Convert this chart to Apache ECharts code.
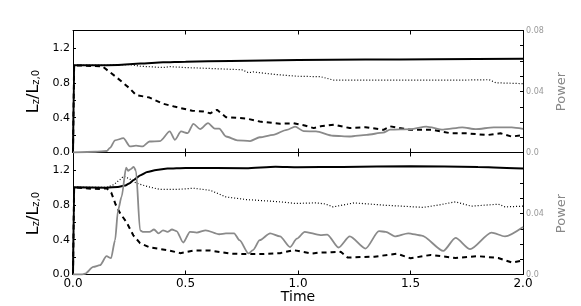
<!DOCTYPE html>
<html><head><meta charset="utf-8">
<script src="https://cdn.jsdelivr.net/npm/echarts@6/dist/echarts.min.js"></script>
<style>html,body{margin:0;padding:0;background:#fff}#c{width:581px;height:306px}</style>
</head><body><div id="c"></div>
<script>
// ---- data (time, value) ----
const xTicks = [0, 0.5, 1.0, 1.5, 2.0];
// top panel
const topSolidT = [0, 0.005, 0.1, 0.2, 0.3, 0.4, 0.5, 0.7, 1.0, 1.3, 1.6, 2.0];
const topSolidV = [0, 1.0, 1.0, 1.005, 1.02, 1.035, 1.042, 1.05, 1.062, 1.066, 1.07, 1.075];
const topDotT = [0, 0.005, 0.15, 0.25, 0.3, 0.4, 0.43, 0.5, 0.6, 0.7, 0.75, 0.78, 0.8, 0.85, 0.9, 1.0, 1.1, 1.16, 1.3, 1.5, 1.7, 1.85, 1.88, 2.0];
const topDotV = [0, 1.0, 1.0, 1.01, 0.99, 0.975, 0.985, 0.975, 0.965, 0.955, 0.95, 0.915, 0.925, 0.91, 0.895, 0.875, 0.87, 0.83, 0.83, 0.83, 0.83, 0.835, 0.80, 0.79];
const topDashT = [0, 0.005, 0.13, 0.19, 0.25, 0.28, 0.34, 0.4, 0.45, 0.53, 0.58, 0.61, 0.64, 0.68, 0.77, 0.83, 0.92, 0.98, 1.03, 1.07, 1.1, 1.16, 1.23, 1.3, 1.38, 1.41, 1.5, 1.6, 1.68, 1.75, 1.84, 1.9, 1.95, 2.0];
const topDashV = [0, 1.0, 0.99, 0.87, 0.74, 0.66, 0.63, 0.56, 0.527, 0.48, 0.47, 0.45, 0.49, 0.405, 0.39, 0.355, 0.33, 0.335, 0.31, 0.28, 0.30, 0.32, 0.28, 0.29, 0.26, 0.30, 0.26, 0.26, 0.22, 0.22, 0.20, 0.22, 0.183, 0.20];
const topPowT = [0, 0.1, 0.15, 0.164, 0.187, 0.224, 0.253, 0.28, 0.31, 0.34, 0.387, 0.43, 0.453, 0.48, 0.51, 0.535, 0.565, 0.6, 0.63, 0.65, 0.68, 0.73, 0.787, 0.83, 0.89, 0.95, 0.987, 1.025, 1.08, 1.156, 1.23, 1.305, 1.378, 1.41, 1.5, 1.57, 1.645, 1.73, 1.79, 1.87, 1.95, 2.0];
const topPowV = [0, 0.0005, 0.001, 0.003, 0.008, 0.0094, 0.004, 0.0045, 0.004, 0.0072, 0.0075, 0.0138, 0.0083, 0.0138, 0.0127, 0.0188, 0.0153, 0.0193, 0.0157, 0.0157, 0.0105, 0.008, 0.0075, 0.010, 0.0116, 0.0149, 0.017, 0.014, 0.0138, 0.011, 0.0105, 0.0116, 0.013, 0.015, 0.0153, 0.017, 0.015, 0.0165, 0.0153, 0.0165, 0.0165, 0.0155];
// bottom panel
const botSolidT = [0, 0.005, 0.15, 0.2, 0.23, 0.25, 0.27, 0.3, 0.33, 0.37, 0.42, 0.5, 0.77, 0.9, 1.0, 1.2, 1.5, 1.8, 2.0];
const botSolidV = [0, 1.0, 0.995, 1.005, 1.02, 1.045, 1.085, 1.14, 1.175, 1.2, 1.215, 1.222, 1.22, 1.236, 1.23, 1.235, 1.243, 1.235, 1.217];
const botDotT = [0, 0.005, 0.15, 0.18, 0.209, 0.225, 0.25, 0.28, 0.33, 0.387, 0.46, 0.535, 0.61, 0.68, 0.77, 0.92, 0.99, 1.05, 1.08, 1.12, 1.156, 1.25, 1.378, 1.557, 1.63, 1.70, 1.77, 1.89, 1.92, 2.0];
const botDotV = [0, 1.0, 1.0, 1.03, 1.09, 1.128, 1.1, 1.05, 1.01, 0.976, 0.976, 0.99, 0.966, 0.89, 0.86, 0.834, 0.815, 0.82, 0.822, 0.81, 0.776, 0.822, 0.796, 0.77, 0.80, 0.834, 0.784, 0.807, 0.776, 0.784];
const botDashT = [0, 0.005, 0.08, 0.12, 0.15, 0.17, 0.19, 0.21, 0.238, 0.268, 0.298, 0.342, 0.42, 0.476, 0.535, 0.61, 0.70, 0.77, 0.84, 0.92, 0.98, 1.06, 1.09, 1.15, 1.19, 1.22, 1.34, 1.44, 1.5, 1.59, 1.7, 1.8, 1.89, 1.95, 2.0];
const botDashV = [0, 1.0, 0.985, 0.98, 0.99, 0.94, 0.80, 0.70, 0.60, 0.45, 0.36, 0.31, 0.28, 0.245, 0.275, 0.275, 0.24, 0.235, 0.235, 0.245, 0.28, 0.24, 0.25, 0.255, 0.26, 0.195, 0.205, 0.238, 0.186, 0.225, 0.19, 0.21, 0.19, 0.138, 0.16];
const botPowT = [0, 0.04, 0.053, 0.09, 0.12, 0.149, 0.169, 0.187, 0.2, 0.216, 0.236, 0.245, 0.255, 0.27, 0.28, 0.298, 0.31, 0.34, 0.36, 0.38, 0.4, 0.42, 0.44, 0.46, 0.49, 0.52, 0.55, 0.59, 0.65, 0.68, 0.716, 0.74, 0.78, 0.80, 0.83, 0.876, 0.92, 0.965, 0.995, 1.03, 1.1, 1.13, 1.18, 1.23, 1.3, 1.36, 1.39, 1.43, 1.49, 1.55, 1.646, 1.7, 1.765, 1.86, 1.92, 2.0];
const botPowV = [0, 0, 0.0005, 0.005, 0.0061, 0.012, 0.0107, 0.0225, 0.042, 0.051, 0.070, 0.068, 0.069, 0.0706, 0.068, 0.029, 0.028, 0.028, 0.0295, 0.027, 0.029, 0.028, 0.0295, 0.0285, 0.021, 0.028, 0.0275, 0.029, 0.0264, 0.027, 0.027, 0.0225, 0.0138, 0.016, 0.0225, 0.027, 0.025, 0.018, 0.0235, 0.028, 0.0258, 0.0262, 0.0177, 0.025, 0.017, 0.0284, 0.028, 0.025, 0.027, 0.0255, 0.0155, 0.024, 0.0166, 0.0275, 0.025, 0.0312];
const leftLabels = ['0.0', '0.4', '0.8', '1.2'];
const rightLabelsTop = ['0.0', '0.04', '0.08'];
const rightLabelsBot = ['0.0', '0.04'];
const rName = 'Power';
const xName = 'Time';

// ---- build ----
const FONT = 'DejaVu Sans';
const zip = (t, v) => t.map((x, i) => [x, v[i]]);
const chart = echarts.init(document.getElementById('c'), null, {renderer: 'canvas'});

function xAxis(grid, pos, labels) {
  return {
    type: 'value', gridIndex: grid, position: pos, min: 0, max: 2, interval: 0.5,
    axisLine: {onZero: false, lineStyle: {color: '#000', width: 1}},
    axisTick: {show: true, inside: true, length: 4, lineStyle: {color: '#000'}},
    splitLine: {show: false},
    axisLabel: {show: labels, margin: 3, color: '#000', fontFamily: FONT, fontSize: 12,
      formatter: v => { const s = xTicks.find(t => Math.abs(t - v) < 1e-6); return s === undefined ? '' : s.toFixed(1); }},
    name: labels ? xName : '', nameLocation: 'middle', nameGap: 14,
    nameTextStyle: {color: '#000', fontFamily: FONT, fontSize: 14}
  };
}
function leftY(grid) {
  return {
    type: 'value', gridIndex: grid, position: 'left', min: 0, max: 1.4, interval: 0.2,
    axisLine: {onZero: false, lineStyle: {color: '#000', width: 1}},
    axisTick: {show: true, inside: true, length: 3, lineStyle: {color: '#000'}},
    splitLine: {show: false},
    axisLabel: {margin: 3, color: '#000', fontFamily: FONT, fontSize: 11,
      formatter: v => { const s = v.toFixed(1); return leftLabels.includes(s) ? s : ''; }},
    name: '{b|L}{s|z}{b|/L}{s|z,0}', nameLocation: 'middle', nameRotate: 90, nameGap: 24,
    nameTextStyle: {rich: {
      b: {fontFamily: FONT, fontSize: 16, color: '#000', lineHeight: 16, verticalAlign: 'top'},
      s: {fontFamily: FONT, fontSize: 10, color: '#000', lineHeight: 10, verticalAlign: 'bottom', padding: [8, 0, 0, 0]}
    }}
  };
}
function rightY(grid, labels) {
  return {
    type: 'value', gridIndex: grid, position: 'right', min: 0, max: 0.08, interval: 0.01,
    axisLine: {onZero: false, lineStyle: {color: '#000', width: 1}},
    axisTick: {show: true, inside: true, length: 3, lineStyle: {color: '#000'}},
    splitLine: {show: false},
    axisLabel: {margin: 3, color: '#999', fontFamily: FONT, fontSize: 8,
      formatter: v => { const s = Math.round(v * 100) === 0 ? '0.0' : v.toFixed(2); return labels.includes(s) ? s : ''; }},
    name: rName, nameLocation: 'middle', nameRotate: 90, nameGap: 21,
    nameTextStyle: {color: '#888', fontFamily: FONT, fontSize: 13}
  };
}
const solid = {color: '#000', width: 2};
const dashed = {color: '#000', width: 2, type: [5, 4]};
const dotted = {color: '#000', width: 1.2, type: [1, 2]};
const power = {color: '#8a8a8a', width: 1.8};
function line(xi, yi, data, ls, smooth) {
  return {type: 'line', xAxisIndex: xi, yAxisIndex: yi, data: data, showSymbol: false, symbol: 'none',
    smooth: smooth || false, smoothMonotone: 'x', lineStyle: ls, silent: true};
}

chart.setOption({
  animation: false,
  backgroundColor: '#fff',
  grid: [
    {left: 73, width: 450, top: 30.5, height: 122},
    {left: 73, width: 450, top: 152.5, height: 122}
  ],
  xAxis: [xAxis(0, 'bottom', false), xAxis(0, 'top', false), xAxis(1, 'bottom', true), xAxis(1, 'top', false)],
  yAxis: [leftY(0), rightY(0, rightLabelsTop), leftY(1), rightY(1, rightLabelsBot)],
  series: [
    line(0, 0, zip(topSolidT, topSolidV), solid, 0.2),
    line(0, 0, zip(topDotT, topDotV), dotted),
    line(0, 0, zip(topDashT, topDashV), dashed),
    line(0, 1, zip(topPowT, topPowV), power, 0.25),
    line(2, 2, zip(botSolidT, botSolidV), solid, 0.2),
    line(2, 2, zip(botDotT, botDotV), dotted),
    line(2, 2, zip(botDashT, botDashV), dashed),
    line(2, 3, zip(botPowT, botPowV), power, 0.25)
  ]
});
</script>
</body></html>
